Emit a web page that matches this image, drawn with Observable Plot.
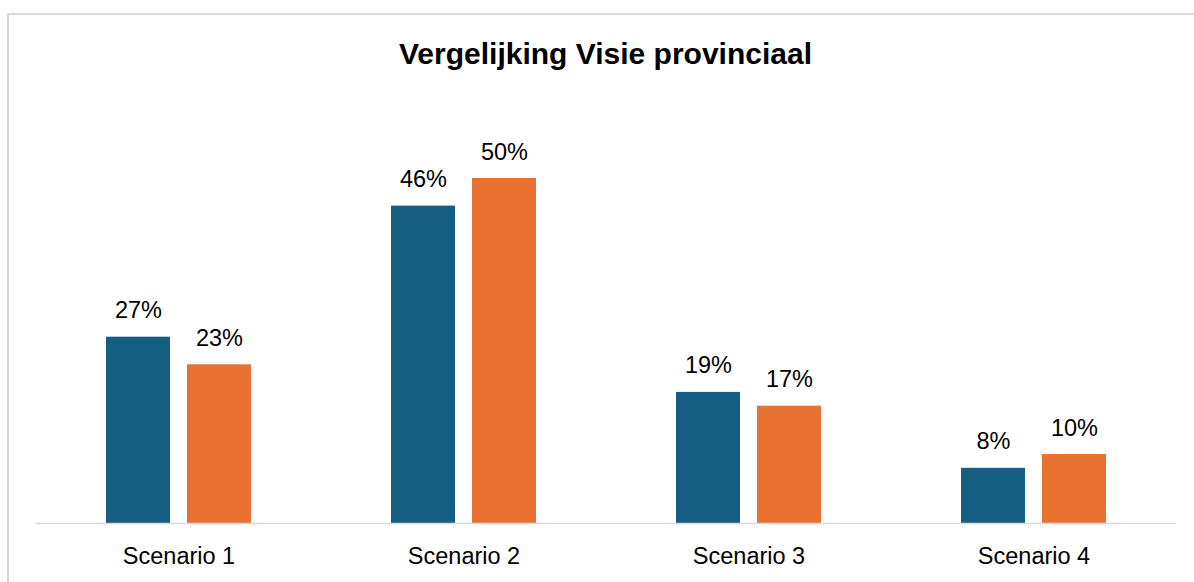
<!DOCTYPE html>
<html>
<head>
<meta charset="utf-8">
<script src="https://cdn.jsdelivr.net/npm/d3@7"></script>
<script src="https://cdn.jsdelivr.net/npm/@observablehq/plot@0.6"></script>
<style>
  html, body { margin: 0; padding: 0; background: #fff; }
  #wrap { position: relative; width: 1194px; height: 582px; overflow: hidden; font-family: "Liberation Sans", Arial, sans-serif; }
  #frame { position: absolute; left: 7px; top: 13px; width: 1300px; height: 700px; border: 2px solid #d9d9d9; box-sizing: border-box; }
  #title { position: absolute; left: 0; width: 1211px; top: 39px; text-align: center; font-size: 30px; font-weight: bold; color: #000; line-height: 30px; }
  #chart { position: absolute; left: 0; top: 0; }
</style>
</head>
<body>
<div id="wrap">
  <div id="frame"></div>
  <div id="title">Vergelijking Visie provinciaal</div>
  <div id="chart"></div>
</div>
<script>
const scenarios = ["Scenario 1", "Scenario 2", "Scenario 3", "Scenario 4"];
const seriesNames = ["Reeks 1", "Reeks 2"];
const series1 = [27, 46, 19, 8];
const series2 = [23, 50, 17, 10];
const colors = ["#156082", "#E97132"];

const data = [];
scenarios.forEach((s, i) => {
  data.push({scenario: s, series: seriesNames[0], value: series1[i]});
  data.push({scenario: s, series: seriesNames[1], value: series2[i]});
});

const chart = Plot.plot({
  width: 1194,
  height: 582,
  marginLeft: 36,
  marginRight: 18,
  marginTop: 109,
  marginBottom: 59,
  style: {fontFamily: '"Liberation Sans", Arial, sans-serif', fontSize: "23.5px", color: "#000", background: "transparent", overflow: "visible"},
  fx: {domain: scenarios, padding: 0, label: null, tickSize: 0, tickPadding: 23.5, axis: "bottom"},
  x: {domain: seriesNames, paddingInner: 0.21, paddingOuter: 0.864, axis: null},
  y: {domain: [0, 60], axis: null},
  color: {domain: seriesNames, range: colors},
  marks: [
    Plot.barY(data, {fx: "scenario", x: "series", y: "value", fill: "series"}),
    Plot.ruleY([0], {stroke: "#d9d9d9", strokeWidth: 1.5}),
    Plot.text(data, {fx: "scenario", x: "series", y: "value", text: d => d.value + "%", dy: -26.5, fill: "#000", fontSize: 23.5})
  ]
});
document.getElementById("chart").appendChild(chart);
</script>
</body>
</html>
